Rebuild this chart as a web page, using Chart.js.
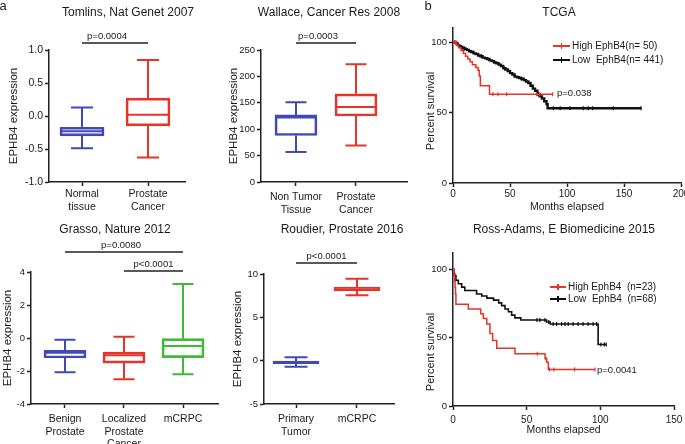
<!DOCTYPE html>
<html>
<head>
<meta charset="utf-8">
<script src="https://cdn.jsdelivr.net/npm/chart.js@4.4.1/dist/chart.umd.min.js"></script>
<style>
  html, body { margin: 0; padding: 0; background: #fff; overflow: hidden; }
  body { width: 685px; height: 444px; position: relative; font-family: 'Liberation Sans', Arial, sans-serif; color: #1a1a1a; }
  canvas { position: absolute; }
  .t { position: absolute; white-space: pre; line-height: 1; transform: translate(-50%, -50%); }
  .l { position: absolute; white-space: pre; line-height: 1; transform: translate(0, -50%); }
  .mk { position: absolute; height: 1.5px; }
  .mk i { position: absolute; left: 50%; top: -2px; width: 1.2px; height: 5.5px; margin-left: -0.6px; }
</style>
</head>
<body>
<canvas id="tomlins" width="215" height="220" style="left:0;top:0"></canvas>
<canvas id="wallace" width="215" height="220" style="left:220px;top:0"></canvas>
<canvas id="tcga" width="280" height="220" style="left:415px;top:0"></canvas>
<canvas id="grasso" width="225" height="224" style="left:0;top:220px"></canvas>
<canvas id="roudier" width="200" height="224" style="left:224px;top:220px"></canvas>
<canvas id="ross" width="280" height="224" style="left:415px;top:220px"></canvas>
<script>
// box plots: [min, q1, median, q3, max] per group
const tomlinsGroups = [['Normal', 'tissue'], ['Prostate', 'Cancer']];
const tomlinsStats = [[-0.49, -0.30, -0.23, -0.17, 0.13], [-0.63, -0.15, 0.02, 0.27, 0.85]];
const tomlinsTicks = [-1.0, -0.5, 0.0, 0.5, 1.0];
const tomlinsP = ['p=0.0004'];

const wallaceGroups = [['Non Tumor', 'Tissue'], ['Prostate', 'Cancer']];
const wallaceStats = [[57, 88, 122, 127, 151], [69, 125, 142, 167, 223]];
const wallaceTicks = [0, 50, 100, 150, 200, 250];
const wallaceP = ['p=0.0003'];

const grassoGroups = [['Benign', 'Prostate'], ['Localized', 'Prostate', 'Cancer'], ['mCRPC']];
const grassoStats = [[-2.08, -1.21, -0.9, -0.75, -0.1], [-2.5, -1.52, -1.05, -0.85, 0.08], [-2.2, -1.19, -0.48, -0.04, 3.28]];
const grassoTicks = [-4, -2, 0, 2, 4];
const grassoP = ['p=0.0080', 'p<0.0001'];

const roudierGroups = [['Primary', 'Tumor'], ['mCRPC']];
const roudierStats = [[-0.7, -0.35, -0.2, -0.05, 0.38], [7.55, 8.05, 8.25, 8.5, 9.45]];
const roudierTicks = [-5, 0, 5, 10];
const roudierP = ['p<0.0001'];

// survival curves: event months and survival after each step
const tcgaHighT = [0, 3, 5, 7, 9, 11, 13, 15, 17, 20, 22, 23, 24, 32, 87.5];
const tcgaHighS = [100, 98, 96, 94, 92, 90, 88, 86, 84, 82, 80, 76, 69, 63, 63];
const tcgaHighCensor = [1.5, 2.5, 35, 39.5, 47, 73.5, 76, 87.5];
const tcgaLowT = [0, 2, 3, 4, 5, 6, 7, 8, 9, 11, 12, 14, 16, 18, 20, 22, 24, 26, 28, 30, 32, 34, 36, 38, 40, 42, 44, 46, 48, 50, 52, 54, 56, 58, 60, 62, 64, 66, 68, 70, 72, 74, 76, 78, 80, 82, 83, 165];
const tcgaLowS = [100, 99.5, 99, 98, 97.5, 97, 96.5, 96, 95.5, 95, 94.5, 93.5, 93, 92, 91.5, 90.5, 90, 89, 88.5, 88, 87, 86.5, 85.5, 85, 84, 83, 81.5, 80.5, 79.5, 78, 77, 75.5, 75, 74.5, 74, 73, 72, 71, 69, 67, 65.5, 63, 61.5, 60, 58, 56, 53, 53];
const tcgaLowCensor = [10, 25, 45, 60, 75, 88, 94, 102.6, 114.3, 118.7, 122.5, 140.6, 165];
const tcgaLegend = ['High EphB4(n= 50)', 'Low  EphB4(n= 441)'];
const tcgaPval = 'p=0.038';

const rossHighT = [0, 0.5, 1, 1.4, 1.7, 2, 10.4, 18.8, 20.6, 22.9, 25.1, 26.9, 29.7, 42.1, 62.5, 63.6, 64.7, 96.4];
const rossHighS = [100, 96, 91, 87, 82, 74.5, 71, 67.5, 64, 60, 53, 48, 42.3, 38.2, 34.5, 32, 26.8, 26.8];
const rossHighCensor = [57.2, 63.2, 65.5, 68.5, 82.5, 96.4];
const rossLowT = [0, 0.6, 1.1, 2, 3.6, 5.9, 8, 16, 19.5, 23, 27.5, 31, 33, 35.3, 37.6, 39.8, 42, 46, 63.5, 66, 98.5, 104];
const rossLowS = [100, 97, 95.5, 92, 89.5, 87, 84.5, 82, 80.5, 79, 77.5, 75.5, 73.5, 71, 69, 66.5, 64.5, 63, 61.5, 60, 45, 45];
const rossLowCensor = [57, 59, 62.4, 65, 68, 70.3, 73.7, 76, 78.2, 81.5, 84.9, 88.3, 91.7, 95.1, 97.5, 100.4, 102.7, 104];
const rossLegend = ['High EphB4  (n=23)', 'Low  EphB4  (n=68)'];
const rossPval = 'p=0.0041';

const kmYTicks = [0, 50, 100];
const tcgaXTicks = [0, 50, 100, 150, 200];
const rossXTicks = [0, 50, 100, 150];

const BLUE = '#4049b5', RED = '#e5352a', GREEN = '#3dbb34', INK = '#222';
const FONT = "'Liberation Sans', Arial, sans-serif";

Chart.defaults.font.family = FONT;
Chart.defaults.color = '#1a1a1a';
Chart.defaults.plugins.legend.display = false;
Chart.defaults.plugins.tooltip.enabled = false;

// whiskers, medians and significance bars
Chart.register({
  id: 'boxWhiskers',
  afterDatasetsDraw(chart, args, opts) {
    if (!opts.stats) return;
    const { ctx, chartArea, scales: { x, y } } = chart;
    const half = opts.boxWidth / 2, cap = opts.boxWidth / 4;
    ctx.save();
    ctx.lineWidth = 2;
    opts.stats.forEach((s, i) => {
      const cx = x.getPixelForValue(i + 1);
      const [lo, q1, med, q3, hi] = s.map(v => y.getPixelForValue(v));
      ctx.strokeStyle = opts.colors[i];
      ctx.beginPath();
      ctx.moveTo(cx, hi); ctx.lineTo(cx, q3);
      ctx.moveTo(cx, q1); ctx.lineTo(cx, lo);
      ctx.moveTo(cx - cap, hi); ctx.lineTo(cx + cap, hi);
      ctx.moveTo(cx - cap, lo); ctx.lineTo(cx + cap, lo);
      ctx.moveTo(cx - half, med); ctx.lineTo(cx + half, med);
      ctx.stroke();
    });
    ctx.strokeStyle = INK; ctx.fillStyle = '#1a1a1a'; ctx.lineWidth = 1.5;
    ctx.font = '9.5px ' + FONT;
    ctx.textAlign = 'center'; ctx.textBaseline = 'middle';
    opts.comps.forEach(c => {
      const x0 = x.getPixelForValue(c.from + 1), x1 = x.getPixelForValue(c.to + 1);
      const yy = chartArea.top - c.rise;
      ctx.beginPath(); ctx.moveTo(x0, yy); ctx.lineTo(x1, yy); ctx.stroke();
      ctx.fillText(c.label, (x0 + x1) / 2 + c.dx, yy - 7);
    });
    ctx.restore();
  }
});

const axisLine = { color: INK, width: 1.5 };
const tickMarks = { drawOnChartArea: false, tickLength: 4, tickColor: INK, tickWidth: 1.5 };

function makeBox(id, o) {
  new Chart(document.getElementById(id), {
    type: 'bar',
    data: {
      datasets: [{
        data: o.stats.map((s, i) => ({ x: i + 1, y: [s[1], s[3]] })),
        backgroundColor: 'rgba(0,0,0,0)',
        borderColor: o.colors,
        borderWidth: 2,
        borderSkipped: false,
        barThickness: o.boxWidth
      }]
    },
    options: {
      responsive: false,
      animation: false,
      layout: { padding: o.pad },
      scales: {
        x: {
          type: 'linear', min: o.xMin, max: o.xMax, offset: false,
          afterBuildTicks: s => { s.ticks = o.groups.map((g, i) => ({ value: i + 1 })); },
          afterFit: s => { s.height = o.xHeight; },
          ticks: { callback: (v, i) => o.groups[i], font: { size: 10.5, lineHeight: 1.2 }, padding: o.xPad, maxRotation: 0, autoSkip: false },
          grid: Object.assign({ offset: false }, tickMarks),
          border: axisLine
        },
        y: {
          min: o.yTicks[0], max: o.yTicks[o.yTicks.length - 1],
          afterBuildTicks: s => { s.ticks = o.yTicks.map(v => ({ value: v })); },
          afterFit: s => { s.width = o.yWidth; },
          ticks: { callback: o.fmt, font: { size: o.tickSize }, padding: 2 },
          grid: tickMarks,
          border: axisLine,
          title: { display: true, text: 'EPHB4 expression', font: { size: 11.5 }, padding: { top: o.titlePad, bottom: 0 } }
        }
      },
      plugins: { boxWhiskers: { stats: o.stats, colors: o.colors, boxWidth: o.boxWidth, comps: o.comps } }
    }
  });
}

makeBox('tomlins', {
  groups: tomlinsGroups, stats: tomlinsStats, colors: [BLUE, RED], yTicks: tomlinsTicks,
  fmt: v => v.toFixed(1), xMin: 0.5, xMax: 2.56, boxWidth: 44, tickSize: 10.5,
  pad: { top: 50, right: 30, bottom: 0, left: 0 }, xHeight: 38, yWidth: 49, xPad: 2, titlePad: 7,
  comps: [{ from: 0, to: 1, rise: 7, dx: -8, label: tomlinsP[0] }]
});
makeBox('wallace', {
  groups: wallaceGroups, stats: wallaceStats, colors: [BLUE, RED], yTicks: wallaceTicks,
  fmt: v => v, xMin: 0.417, xMax: 2.85, boxWidth: 42, tickSize: 9.5,
  pad: { top: 50, right: 28, bottom: 0, left: 0 }, xHeight: 38, yWidth: 41, xPad: 5, titlePad: 7,
  comps: [{ from: 0, to: 1, rise: 7, dx: -8, label: wallaceP[0] }]
});
makeBox('grasso', {
  groups: grassoGroups, stats: grassoStats, colors: [BLUE, RED, GREEN], yTicks: grassoTicks,
  fmt: v => v, xMin: 0.424, xMax: 3.593, boxWidth: 42, tickSize: 9.5,
  pad: { top: 52, right: 7, bottom: 0, left: 0 }, xHeight: 40, yWidth: 31, xPad: 5, titlePad: 1,
  comps: [{ from: 0, to: 2, rise: 20, dx: -3, label: grassoP[0] }, { from: 1, to: 2, rise: 1, dx: 0, label: grassoP[1] }]
});
makeBox('roudier', {
  groups: roudierGroups, stats: roudierStats, colors: [BLUE, RED], yTicks: roudierTicks,
  fmt: v => v, xMin: 0.475, xMax: 2.607, boxWidth: 46, tickSize: 9.5,
  pad: { top: 54, right: 30, bottom: 0, left: 0 }, xHeight: 40, yWidth: 40, xPad: 5, titlePad: 7,
  comps: [{ from: 0, to: 1, rise: 11, dx: 0, label: roudierP[0] }]
});

function steps(t, s) { return t.map((v, i) => ({ x: v, y: s[i] })); }
function censored(c, t, s) {
  return c.map(m => {
    let k = 0;
    while (k + 1 < t.length && t[k + 1] <= m) k++;
    return { x: m, y: s[k] };
  });
}

function makeKM(id, o) {
  const curve = (t, s, color, w) => ({ data: steps(t, s), borderColor: color, borderWidth: w, stepped: 'before', pointRadius: 0, fill: false, borderJoinStyle: 'miter' });
  const ticks = (c, t, s, color) => ({ data: censored(c, t, s), showLine: false, pointStyle: 'line', rotation: 90, pointRadius: 2, borderColor: color, borderWidth: 1.2 });
  new Chart(document.getElementById(id), {
    type: 'line',
    data: {
      datasets: [
        curve(o.highT, o.highS, RED, 1.5),
        ticks(o.highC, o.highT, o.highS, RED),
        curve(o.lowT, o.lowS, '#111', o.lowWidth),
        ticks(o.lowC, o.lowT, o.lowS, '#111')
      ]
    },
    options: {
      responsive: false,
      animation: false,
      layout: { padding: o.pad },
      scales: {
        x: {
          type: 'linear', min: 0, max: o.xTicks[o.xTicks.length - 1],
          afterBuildTicks: s => { s.ticks = o.xTicks.map(v => ({ value: v })); },
          afterFit: s => { s.height = 30; },
          ticks: { font: { size: 10 }, padding: o.xPad, maxRotation: 0 },
          grid: tickMarks, border: axisLine,
          title: { display: true, text: 'Months elapsed', font: { size: 10.5 }, padding: { top: 0, bottom: 0 } }
        },
        y: {
          min: 0, max: o.yMax,
          afterBuildTicks: s => { s.ticks = kmYTicks.map(v => ({ value: v })); },
          afterFit: s => { s.width = 38; },
          ticks: { font: { size: 9.5 }, padding: 2 },
          grid: tickMarks, border: axisLine
        }
      }
    }
  });
}

makeKM('tcga', {
  highT: tcgaHighT, highS: tcgaHighS, highC: tcgaHighCensor,
  lowT: tcgaLowT, lowS: tcgaLowS, lowC: tcgaLowCensor, lowWidth: 2.4,
  xTicks: tcgaXTicks, yMax: 110, xPad: 1, pad: { top: 28, right: 14, bottom: 7, left: 0 }
});
makeKM('ross', {
  highT: rossHighT, highS: rossHighS, highC: rossHighCensor,
  lowT: rossLowT, lowS: rossLowS, lowC: rossLowCensor, lowWidth: 1.6,
  xTicks: rossXTicks, yMax: 112, xPad: 4, pad: { top: 33, right: 21, bottom: 8, left: 0 }
});

// titles, panel letters, legends and labels
function put(cls, txt, x, y, size, css) {
  const d = document.createElement('div');
  d.className = cls;
  d.textContent = txt;
  d.style.left = x + 'px';
  d.style.top = y + 'px';
  d.style.fontSize = size + 'px';
  if (css) Object.assign(d.style, css);
  document.body.appendChild(d);
  return d;
}
put('t', 'a', 3, 5, 13);
put('t', 'b', 428, 5, 13);
put('t', 'Tomlins, Nat Genet 2007', 128, 12, 12);
put('t', 'Wallace, Cancer Res 2008', 329, 12, 12);
put('t', 'TCGA', 559, 12, 12);
put('t', 'Grasso, Nature 2012', 115, 229, 12);
put('t', 'Roudier, Prostate 2016', 342, 229, 12);
put('t', 'Ross-Adams, E Biomedicine 2015', 564, 229, 12);
put('t', 'Percent survival', 430, 111, 11, { transform: 'translate(-50%,-50%) rotate(-90deg)' });
put('t', 'Percent survival', 430, 352, 11, { transform: 'translate(-50%,-50%) rotate(-90deg)' });
put('l', tcgaPval, 557, 93, 9.5);
put('l', rossPval, 597, 370, 9.5);

function legend(items, x, y0, gap, w) {
  items.forEach((txt, i) => {
    const y = y0 + i * gap, color = i === 0 ? RED : '#111';
    const m = document.createElement('div');
    m.className = 'mk';
    Object.assign(m.style, { left: x + 'px', top: (y - 0.75) + 'px', width: w + 'px', background: color });
    const tk = document.createElement('i');
    tk.style.background = color;
    m.appendChild(tk);
    document.body.appendChild(m);
    put('l', txt, x + w + 2, y, 10);
  });
}
legend(tcgaLegend, 553, 46, 14, 17);
legend(rossLegend, 550, 287, 12, 16);
</script>
</body>
</html>
